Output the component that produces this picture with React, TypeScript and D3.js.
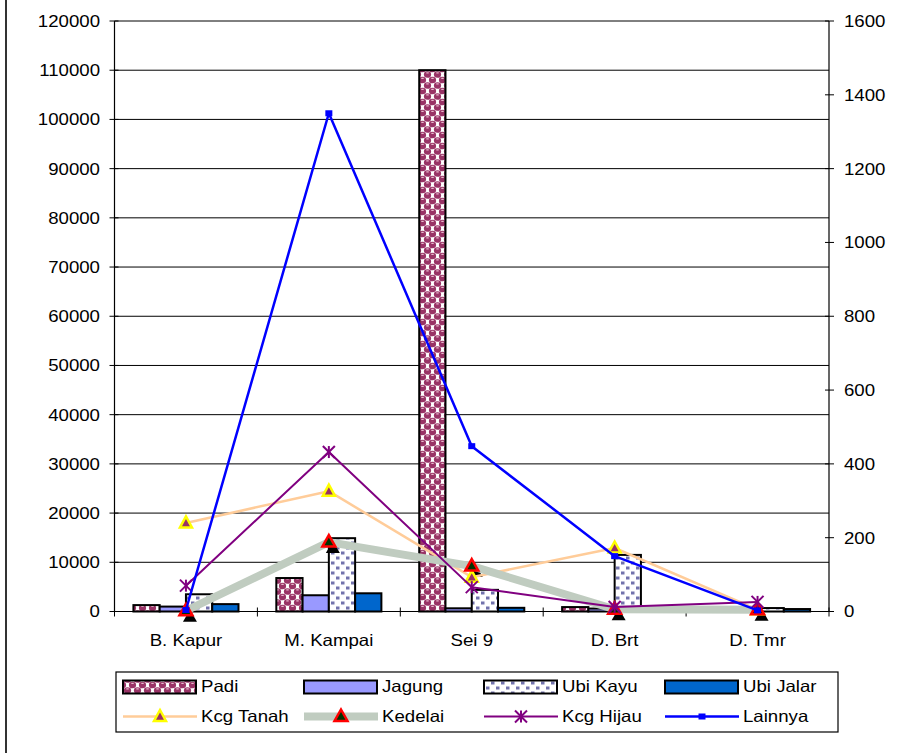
import React from "react";
import * as d3 from "d3";

const categories = ["B. Kapur", "M. Kampai", "Sei 9", "D. Brt", "D. Tmr"];
const padi = [1300, 6800, 110000, 900, 300];
const jagung = [1000, 3300, 650, 600, 200];
const ubiKayu = [3500, 14900, 4400, 11500, 700];
const ubiJalar = [1500, 3700, 750, 500, 500];
const kcgTanah = [240, 326, 93, 172, 5];
const kedelai = [2, 188, 123, 6, 5];
const kcgHijau = [70, 432, 66, 12, 26];
const lainnya = [4, 1350, 448, 150, 3];
const leftTicks = [0, 10000, 20000, 30000, 40000, 50000, 60000, 70000, 80000, 90000, 100000, 110000, 120000];
const rightTicks = [0, 200, 400, 600, 800, 1000, 1200, 1400, 1600];
const barNames = ["Padi", "Jagung", "Ubi Kayu", "Ubi Jalar"];
const lineNames = ["Kcg Tanah", "Kedelai", "Kcg Hijau", "Lainnya"];

const W = 905, H = 753;
const L = 114.5, R = 829, TOP = 21, BOT = 611.5;
const FONT = "'Liberation Sans', Arial, sans-serif";
const FS = 16.5;
const SX = 1.13;

const T = ({ x, y, anchor = "start", dy = "0", children }: any) => (
  <text transform={`translate(${x},${y}) scale(${SX},1)`} textAnchor={anchor} dy={dy}
    fontFamily={FONT} fontSize={FS} fill="#000">{children}</text>
);

const barFills = ["url(#padiPat)", "#9999FF", "url(#ubiKayuPat)", "#0066CC"];

function Marker({ kind, x, y }: { kind: string; x: number; y: number }) {
  if (kind === "Kcg Tanah") {
    return <path d={`M${x},${y - 6.5}L${x + 6},${y + 4.5}L${x - 6},${y + 4.5}Z`} fill="#993366" stroke="#FFFF00" strokeWidth={2.5} strokeLinejoin="miter" />;
  }
  if (kind === "Kedelai") {
    return <path d={`M${x},${y - 7}L${x + 6.5},${y + 4.5}L${x - 6.5},${y + 4.5}Z`} fill="#003300" stroke="#FF0000" strokeWidth={2.5} />;
  }
  if (kind === "Kcg Hijau") {
    const r = 6;
    return (
      <g stroke="#800080" strokeWidth={2}>
        <line x1={x} y1={y - r} x2={x} y2={y + r} />
        <line x1={x - r} y1={y - r} x2={x + r} y2={y + r} />
        <line x1={x - r} y1={y + r} x2={x + r} y2={y - r} />
      </g>
    );
  }
  return <rect x={x - 3.5} y={y - 3} width={7} height={6} fill="#0000FF" />;
}

const lineStyles: Record<string, { color: string; width: number }> = {
  "Kcg Tanah": { color: "#FFCC99", width: 2.5 },
  "Kedelai": { color: "#C0CCC0", width: 8 },
  "Kcg Hijau": { color: "#800080", width: 2 },
  "Lainnya": { color: "#0000FF", width: 2.5 },
};

export default function App() {
  const x0 = d3.scaleBand<string>().domain(categories).range([L, R]).padding(0);
  const x1 = d3.scaleBand<string>().domain(barNames).range([0, x0.bandwidth()]).paddingInner(0).paddingOuter(0.72);
  const yL = d3.scaleLinear().domain([0, 120000]).range([BOT, TOP]);
  const yR = d3.scaleLinear().domain([0, 1600]).range([BOT, TOP]);
  const barData = [padi, jagung, ubiKayu, ubiJalar];
  const lineData = [kcgTanah, kedelai, kcgHijau, lainnya];
  const cx = (c: string) => (x0(c) as number) + x0.bandwidth() / 2;
  const lineGen = d3.line<number>().x((_, i) => cx(categories[i])).y((v) => yR(v));

  const legX = [123, 304, 484, 665];
  const legY1 = 686.5, legY2 = 716.5;

  const padiDots: [number, number][] = [[2.5, 3], [7.5, 8.5], [12.5, 3], [-2.5, 8.5], [2.5, 14], [7.5, -2.5], [12.5, 14], [-2.5, -2.5]];

  return (
    <svg width={W} height={H} style={{ position: "absolute", left: 0, top: 0, background: "#fff" }}>
      <defs>
        <pattern id="padiPat" width={10} height={11} patternUnits="userSpaceOnUse">
          <rect width={10} height={11} fill="#fff" />
          {padiDots.map(([a, b], i) => (
            <g key={i}>
              <ellipse cx={a} cy={b} rx={3.6} ry={3.3} fill="#993366" />
              <rect x={a - 1.2} y={b - 2.2} width={2.4} height={1.2} fill="#E8B8CC" />
            </g>
          ))}
        </pattern>
        <pattern id="ubiKayuPat" width={10} height={10} patternUnits="userSpaceOnUse">
          <rect width={10} height={10} fill="#fff" />
          <rect x={1} y={1.5} width={3.5} height={3} fill="#7272AC" />
          <rect x={6} y={6.5} width={3.5} height={3} fill="#7272AC" />
        </pattern>
      </defs>

      {/* outer frame left edge */}
      <line x1={6} y1={0} x2={6} y2={H} stroke="#333" strokeWidth={2} />

      {/* gridlines */}
      {leftTicks.map((t) => (
        <line key={"g" + t} x1={L} x2={R} y1={yL(t)} y2={yL(t)} stroke="#000" strokeWidth={1} />
      ))}

      {/* bars */}
      {categories.map((c, ci) => (
        <g key={c}>
          {barNames.map((b, bi) => {
            const v = barData[bi][ci];
            const bx = (x0(c) as number) + (x1(b) as number);
            return (
              <rect key={b} x={bx} y={yL(v)} width={x1.bandwidth()} height={BOT - yL(v)}
                fill={barFills[bi]} stroke="#000" strokeWidth={2} />
            );
          })}
        </g>
      ))}

      {/* axes */}
      <line x1={L} x2={L} y1={TOP} y2={BOT} stroke="#000" strokeWidth={1.2} />
      <line x1={R} x2={R} y1={TOP} y2={BOT} stroke="#000" strokeWidth={1.2} />
      <line x1={L} x2={R} y1={BOT} y2={BOT} stroke="#000" strokeWidth={1.2} />
      {leftTicks.map((t) => (
        <g key={"lt" + t}>
          <line x1={L - 5} x2={L + 4} y1={yL(t)} y2={yL(t)} stroke="#000" />
          <T x={100} y={yL(t)} anchor="end" dy="0.36em">{String(t)}</T>
        </g>
      ))}
      {rightTicks.map((t) => (
        <g key={"rt" + t}>
          <line x1={R - 4} x2={R + 5} y1={yR(t)} y2={yR(t)} stroke="#000" />
          <T x={844} y={yR(t)} anchor="start" dy="0.36em">{String(t)}</T>
        </g>
      ))}
      {categories.map((c) => (
        <line key={"ct" + c} x1={x0(c) as number} x2={x0(c) as number} y1={BOT - 4} y2={BOT + 5} stroke="#000" />
      ))}
      <line x1={R} x2={R} y1={BOT - 4} y2={BOT + 5} stroke="#000" />
      {categories.map((c) => (
        <T key={"cl" + c} x={cx(c)} y={646} anchor="middle">{c}</T>
      ))}

      {/* Kedelai marker shadows */}
      {kedelai.map((v, i) => {
        const x = cx(categories[i]) + 4, y = yR(v) + 6;
        return <path key={"sh" + i} d={`M${x},${y - 7}L${x + 7},${y + 5}L${x - 7},${y + 5}Z`} fill="#000" />;
      })}

      {/* lines */}
      {lineNames.map((n, li) => (
        <g key={n}>
          <path d={lineGen(lineData[li]) as string} fill="none" stroke={lineStyles[n].color}
            strokeWidth={lineStyles[n].width} strokeLinejoin="round" />
          {lineData[li].map((v, i) => (
            <Marker key={i} kind={n} x={cx(categories[i])} y={yR(v)} />
          ))}
        </g>
      ))}

      {/* legend */}
      <rect x={116} y={672} width={722} height={60} fill="#fff" stroke="#000" strokeWidth={1.2} />
      {barNames.map((b, i) => (
        <g key={"lb" + b}>
          <rect x={legX[i]} y={legY1 - 6} width={73} height={13} fill={barFills[i]} stroke="#000" strokeWidth={2} />
          <T x={legX[i] + 78} y={legY1} dy="0.36em">{b}</T>
        </g>
      ))}
      {lineNames.map((n, i) => (
        <g key={"ll" + n}>
          <line x1={legX[i]} x2={legX[i] + 74} y1={legY2} y2={legY2} stroke={lineStyles[n].color} strokeWidth={lineStyles[n].width} />
          <Marker kind={n} x={legX[i] + 37} y={legY2} />
          <T x={legX[i] + 78} y={legY2} dy="0.36em">{n}</T>
        </g>
      ))}
    </svg>
  );
}
